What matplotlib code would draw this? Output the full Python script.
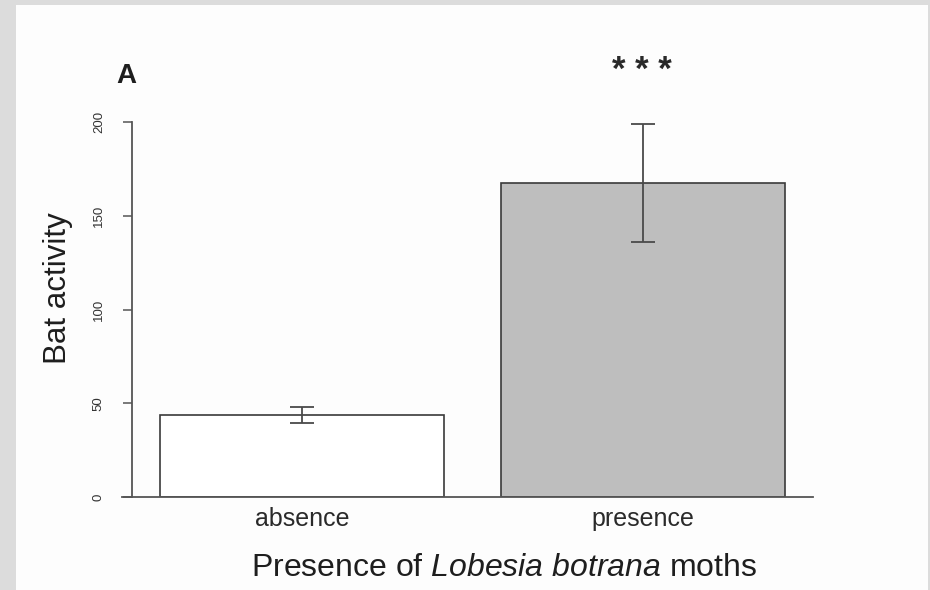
import matplotlib.pyplot as plt
import matplotlib.patches as mpatches

plt.rcParams['font.family'] = ['Liberation Sans', 'DejaVu Sans']
plt.rcParams['mathtext.fontset'] = 'custom'
plt.rcParams['mathtext.rm'] = 'Liberation Sans'
plt.rcParams['mathtext.it'] = 'Liberation Sans:italic'

# data
categories = ['absence', 'presence']
means = [43.7, 167.5]
se = [4.3, 31.5]
bar_colors = ['white', '#bebebe']
yticks = [0, 50, 100, 150, 200]

W, H = 930, 590
fig = plt.figure(figsize=(W / 100, H / 100), dpi=100, facecolor='#dcdcdc')
# white panel inside the grey frame
fig.patches.append(mpatches.Rectangle((16 / W, 0), 912 / W, 585 / H,
                                      transform=fig.transFigure,
                                      facecolor='#fdfdfd', edgecolor='none',
                                      zorder=-5))

ax = fig.add_axes([122 / W, 93 / H, (813 - 122) / W, (497 - 122) / H])
ax.set_facecolor('none')
ax.set_zorder(2)

pos = [0.7, 1.9]  # R barplot style: width 1, space 0.2
ax.bar(pos, means, width=1.0, color=bar_colors, edgecolor='#3a3a3a',
       linewidth=1.2, zorder=2)
ax.errorbar(pos, means, yerr=se, fmt='none', ecolor='#4a4a4a',
            elinewidth=1.3, capsize=8.5, capthick=1.3, zorder=3)

ax.set_xlim(0.067, 2.5)
ax.set_ylim(0, 200)

for s in ['top', 'right']:
    ax.spines[s].set_visible(False)
ax.spines['left'].set_position(('data', 0.102))
ax.spines['left'].set_bounds(0, 200)
for s in ['left', 'bottom']:
    ax.spines[s].set_color('#555555')
    ax.spines[s].set_linewidth(1.3)

ax.set_yticks(yticks)
ax.set_yticklabels([str(t) for t in yticks], rotation=90, va='center',
                   fontsize=9.5, color='#333333')
ax.tick_params(axis='y', direction='out', length=6.5, width=1.1,
               color='#555555', pad=13)
ax.set_xticks(pos)
ax.set_xticklabels(categories, fontsize=18, color='#2a2a2a')
ax.tick_params(axis='x', length=0, pad=7)

fig.text(58 / W, 1 - 288 / H, 'Bat activity', rotation=90, ha='center',
         va='center', fontsize=22.5, color='#1e1e1e')
fig.text(504 / W, 1 - 568 / H, r'Presence of $\mathit{Lobesia\ botrana}$ moths',
         ha='center', va='center', fontsize=23, color='#1e1e1e')
fig.text(126 / W, 1 - 76 / H, 'A', ha='center', va='center', fontsize=20,
         fontweight='bold', color='#1e1e1e')
fig.text(642 / W, 1 - 70 / H, '* * *', ha='center', va='center', fontsize=25,
         fontweight='bold', color='#2a2a2a')

fig.savefig('out.png', dpi=100, facecolor=fig.get_facecolor())
